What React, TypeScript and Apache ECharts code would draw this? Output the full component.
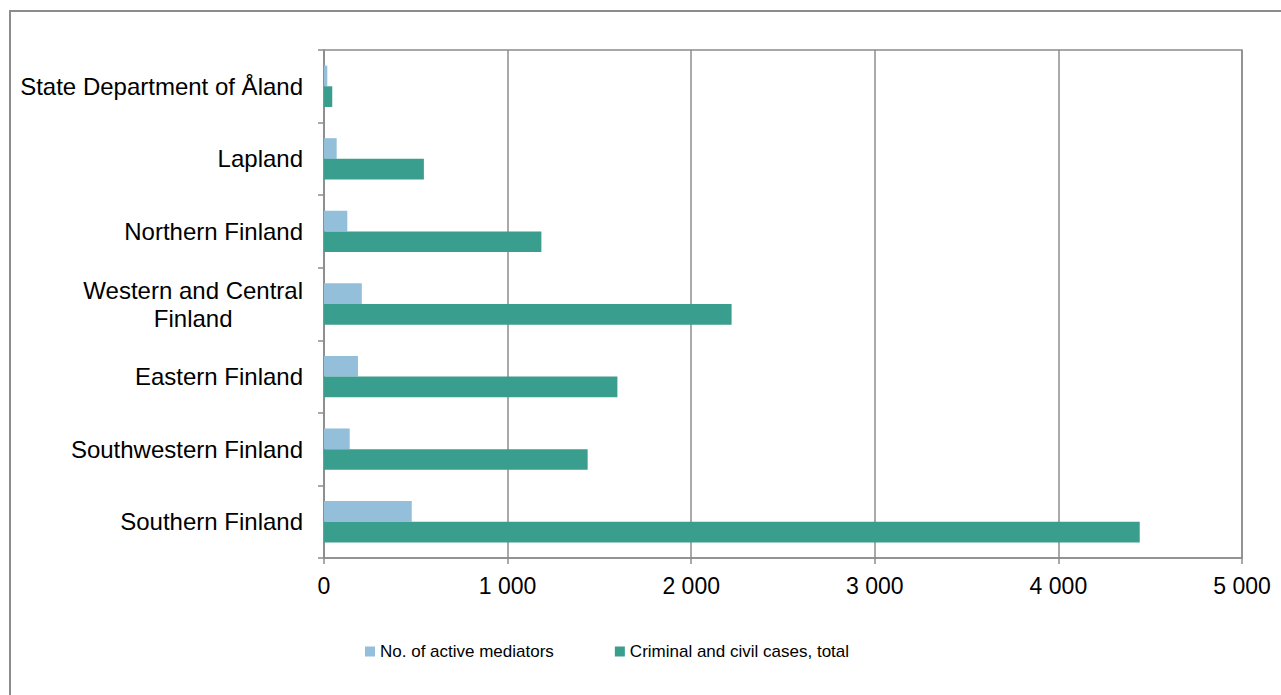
import React, { useEffect, useRef } from "react";
import * as echarts from "echarts";

const categories = [
  "State Department of Åland",
  "Lapland",
  "Northern Finland",
  "Western and Central\nFinland",
  "Eastern Finland",
  "Southwestern Finland",
  "Southern Finland",
];
const mediators = [18, 69, 127, 206, 185, 140, 478];
const cases = [45, 544, 1184, 2220, 1598, 1436, 4443];
const seriesNames = ["No. of active mediators", "Criminal and civil cases, total"];
const xTicks = { min: 0, max: 5000, interval: 1000 };

export default function App() {
  const ref = useRef<HTMLDivElement>(null);
  useEffect(() => {
    document.body.style.margin = "0";
    const chart = echarts.init(ref.current!, null, { renderer: "svg" });
    const gray = "#8c8c8c";
    chart.setOption({
      animation: false,
      backgroundColor: "#ffffff",
      textStyle: { fontFamily: "Liberation Sans, Arial, sans-serif", color: "#000" },
      grid: {
        left: 324,
        right: 39,
        top: 50,
        bottom: 137,
        show: true,
        borderColor: gray,
        borderWidth: 1.5,
      },
      graphic: [
        {
          type: "rect",
          silent: true,
          shape: { x: 10, y: 11, width: 1400, height: 800 },
          style: { fill: "none", stroke: gray, lineWidth: 2 },
        },
      ],
      legend: {
        left: 365,
        top: 643,
        padding: 0,
        itemWidth: 10,
        itemHeight: 10,
        itemGap: 61,
        icon: "rect",
        textStyle: {
          fontFamily: "Liberation Sans, Arial, sans-serif",
          fontSize: 17,
          color: "#000",
        },
        data: seriesNames,
      },
      xAxis: {
        type: "value",
        min: xTicks.min,
        max: xTicks.max,
        interval: xTicks.interval,
        axisLine: { show: true, lineStyle: { color: gray, width: 1.5 } },
        axisTick: { show: true, length: 6, lineStyle: { color: gray, width: 1.5 } },
        splitLine: { show: true, lineStyle: { color: gray, width: 1.5 } },
        axisLabel: {
          fontSize: 23,
          color: "#000",
          margin: 16,
          formatter: (v: number) => String(v).replace(/\B(?=(\d{3})+(?!\d))/g, " "),
        },
      },
      yAxis: {
        type: "category",
        inverse: true,
        data: categories,
        axisLine: { show: true, lineStyle: { color: gray, width: 1.5 } },
        axisTick: { show: true, length: 6, lineStyle: { color: gray, width: 1.5 } },
        axisLabel: {
          fontSize: 24,
          color: "#000",
          margin: 21,
          formatter: (v: string) =>
            v
              .split("\n")
              .map((l) => "{c|" + l + "}")
              .join("\n"),
          rich: { c: { align: "center", fontSize: 24, lineHeight: 28 } },
        },
      },
      series: [
        {
          name: seriesNames[0],
          type: "bar",
          data: mediators,
          itemStyle: { color: "#93BFDB" },
          barGap: "0%",
          barCategoryGap: "43%",
        },
        {
          name: seriesNames[1],
          type: "bar",
          data: cases,
          itemStyle: { color: "#3A9E8E" },
          barGap: "0%",
          barCategoryGap: "43%",
        },
      ],
    });
    return () => chart.dispose();
  }, []);
  return <div ref={ref} style={{ width: 1281, height: 695 }} />;
}
